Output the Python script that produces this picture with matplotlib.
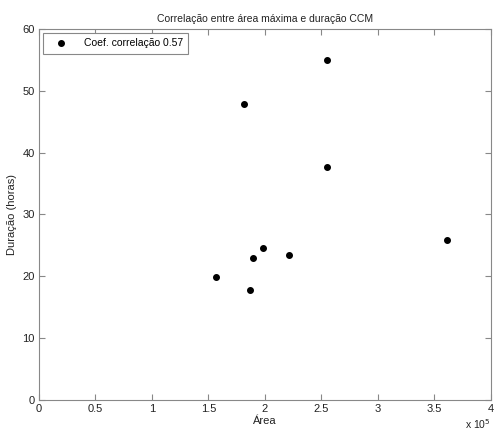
import matplotlib
matplotlib.use("Agg")
from matplotlib import pyplot as plt
from matplotlib import ticker

plt.rcParams["font.family"] = ["Liberation Sans", "DejaVu Sans"]
plt.rcParams["font.size"] = 8

# área máxima (km²) e duração (horas) de cada CCM
area = [1.567e5, 1.812e5, 1.871e5, 1.895e5, 1.981e5, 2.215e5, 2.550e5, 2.554e5, 3.610e5]
duracao = [19.9, 47.8, 17.8, 23.0, 24.6, 23.4, 55.0, 37.6, 25.9]
coef = 0.57

fig = plt.figure(figsize=(4.97, 4.32), dpi=100)
ax = fig.add_axes([0.0785, 0.074, 0.909, 0.859])

ax.plot(area, duracao, "o", color="black", markersize=4,
        label=f"Coef. correlação {coef:.2f}")

ax.set_xlim(0, 4e5)
ax.set_ylim(0, 60)
ax.set_xticks([i * 0.5e5 for i in range(9)])
ax.set_yticks(range(0, 61, 10))
ax.xaxis.set_major_formatter(ticker.FuncFormatter(lambda v, p: f"{v / 1e5:g}"))

for s in ax.spines.values():
    s.set_color("#888888")
ax.tick_params(direction="in", length=4, color="#888888", top=True, right=True,
               labelcolor="#222222", pad=3)

ax.set_title("Correlação entre área máxima e duração CCM", fontsize=7.5, pad=5, color="#222222")
ax.set_xlabel("Área", labelpad=1, color="#222222")
ax.set_ylabel("Duração (horas)", labelpad=4, color="#222222")
ax.text(1.0, -0.045, r"x 10$^5$", transform=ax.transAxes, ha="right", va="top",
        fontsize=7.5, color="#222222")

leg = ax.legend(loc="upper left", fancybox=False, framealpha=1, borderpad=0.5,
                handletextpad=1.0, handlelength=2.4, borderaxespad=0.4, fontsize=7.5)
leg.get_frame().set_edgecolor("#888888")
leg.get_frame().set_linewidth(0.8)

fig.savefig("out.png", dpi=100, facecolor="white")
